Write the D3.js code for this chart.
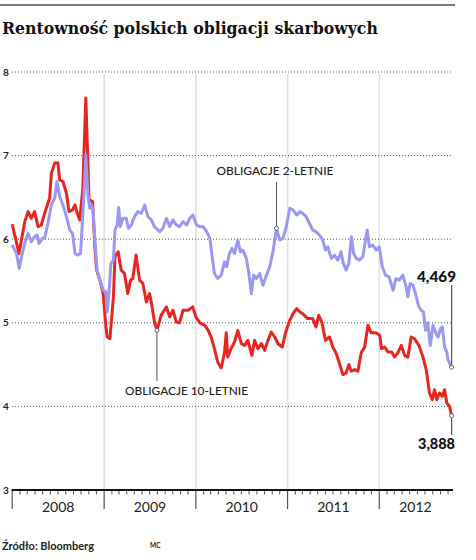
<!DOCTYPE html>
<html>
<head>
<meta charset="utf-8">
<script src="https://cdn.jsdelivr.net/npm/d3@7"></script>
<style>
  html, body { margin: 0; padding: 0; background: #fff; }
  svg { display: block; }
</style>
</head>
<body>
<svg id="chart" width="476" height="560"></svg>
<script>
// ---------- DATA ----------
const title = "Rentowność polskich obligacji skarbowych";
const source = "Źródło: Bloomberg";
const author = "MC";
const yTicks = [3, 4, 5, 6, 7, 8];
const yearLabels = ["2008", "2009", "2010", "2011", "2012"];

const dates10 = ["2008-01-01","2008-01-28","2008-02-20","2008-03-04","2008-03-17","2008-03-30","2008-04-13","2008-04-26","2008-05-09","2008-05-29",
"2008-06-05","2008-06-18","2008-07-01","2008-07-08","2008-07-21","2008-08-04","2008-08-14","2008-08-28","2008-09-07","2008-09-16",
"2008-09-26","2008-10-08","2008-10-20","2008-11-02","2008-11-16","2008-11-25","2008-12-02","2008-12-15","2008-12-28","2009-01-08",
"2009-01-13","2009-01-24","2009-02-07","2009-02-13","2009-02-26","2009-03-03","2009-03-10","2009-03-23","2009-04-05","2009-04-16",
"2009-04-25","2009-05-08","2009-05-22","2009-06-04","2009-06-18","2009-07-01","2009-07-11","2009-07-20","2009-07-30","2009-08-16",
"2009-09-06","2009-09-19","2009-10-02","2009-10-15","2009-10-28","2009-11-11","2009-12-01","2009-12-20","2010-01-01","2010-01-17",
"2010-02-06","2010-02-19","2010-03-03","2010-03-16","2010-03-29","2010-04-12","2010-04-25","2010-05-02","2010-05-08","2010-05-21",
"2010-06-04","2010-06-17","2010-07-01","2010-07-14","2010-07-27","2010-08-12","2010-08-23","2010-09-05","2010-09-19","2010-10-02",
"2010-10-15","2010-10-28","2010-11-11","2010-11-24","2010-12-11","2010-12-24","2011-01-07","2011-01-23","2011-02-06","2011-02-19",
"2011-03-02","2011-03-22","2011-04-11","2011-04-24","2011-05-05","2011-05-18","2011-06-01","2011-06-17","2011-06-30","2011-07-13",
"2011-07-26","2011-08-09","2011-08-22","2011-09-02","2011-09-12","2011-09-25","2011-10-08","2011-10-21","2011-11-04","2011-11-17",
"2011-11-30","2011-12-20","2012-01-03","2012-01-10","2012-01-23","2012-02-05","2012-02-19","2012-03-02","2012-03-15","2012-03-29",
"2012-04-11","2012-04-24","2012-05-07","2012-05-20","2012-06-07","2012-06-23","2012-07-06","2012-07-19","2012-07-30","2012-08-08",
"2012-08-17","2012-08-28","2012-09-08","2012-09-17","2012-09-26","2012-10-07","2012-10-15"];
const yield10 = [6.18,5.83,6.21,6.33,6.25,6.33,6.15,6.17,6.31,6.49,
6.79,6.91,6.91,6.71,6.69,6.55,6.33,6.35,6.41,6.31,
6.23,6.60,7.69,6.47,6.45,5.91,5.63,5.51,5.35,4.95,
4.83,4.81,5.31,5.79,5.85,5.75,5.63,5.59,5.35,5.51,
5.53,5.81,5.51,5.47,5.25,5.35,5.19,5.01,4.91,5.09,
5.19,5.07,5.15,5.01,5.00,5.15,5.15,5.19,5.07,5.00,
4.97,4.91,4.83,4.69,4.53,4.46,4.64,4.88,4.59,4.69,
4.77,4.91,4.75,4.73,4.79,4.61,4.79,4.69,4.75,4.67,
4.79,4.89,4.83,4.75,4.71,4.88,5.01,5.11,5.17,5.13,
5.11,5.05,5.05,4.95,5.09,5.00,4.79,4.83,4.71,4.64,
4.52,4.38,4.40,4.50,4.42,4.44,4.42,4.64,4.71,4.97,
4.88,4.88,4.85,4.69,4.71,4.65,4.65,4.59,4.64,4.73,
4.61,4.59,4.83,4.81,4.73,4.59,4.44,4.16,4.08,4.20,
4.08,4.16,4.12,4.20,4.04,4.00,3.888];

const dates2 = ["2008-01-01","2008-01-18","2008-01-29","2008-02-07","2008-02-20","2008-03-04","2008-03-17","2008-03-30","2008-04-09","2008-04-17",
"2008-04-30","2008-05-09","2008-05-22","2008-06-05","2008-06-18","2008-06-27","2008-07-08","2008-07-21","2008-08-04","2008-08-17",
"2008-08-28","2008-09-07","2008-09-16","2008-09-29","2008-10-07","2008-10-16","2008-10-20","2008-10-29","2008-11-05","2008-11-12",
"2008-11-18","2008-11-25","2008-12-04","2008-12-15","2008-12-28","2009-01-08","2009-01-13","2009-01-21","2009-01-28","2009-02-07",
"2009-02-13","2009-02-22","2009-02-28","2009-03-06","2009-03-16","2009-03-30","2009-04-08","2009-04-19","2009-05-02","2009-05-15",
"2009-05-29","2009-06-11","2009-06-24","2009-07-08","2009-07-20","2009-08-10","2009-08-23","2009-09-06","2009-09-19","2009-10-02",
"2009-10-15","2009-10-28","2009-11-11","2009-11-25","2009-12-08","2009-12-20","2010-01-04","2010-01-17","2010-01-30","2010-02-13",
"2010-02-26","2010-03-07","2010-03-16","2010-03-29","2010-04-12","2010-04-25","2010-05-04","2010-05-15","2010-05-25","2010-06-04",
"2010-06-17","2010-06-27","2010-07-07","2010-07-21","2010-07-31","2010-08-10","2010-08-19","2010-08-30","2010-09-12","2010-09-25",
"2010-10-09","2010-10-22","2010-11-04","2010-11-18","2010-12-01","2010-12-14","2010-12-27","2011-01-10","2011-01-23","2011-02-06",
"2011-02-19","2011-03-02","2011-03-16","2011-03-29","2011-04-11","2011-04-24","2011-05-08","2011-05-21","2011-06-01","2011-06-10",
"2011-06-24","2011-07-07","2011-07-20","2011-08-02","2011-08-11","2011-08-22","2011-09-02","2011-09-12","2011-09-21","2011-10-01",
"2011-10-14","2011-10-28","2011-11-06","2011-11-14","2011-11-23","2011-12-06","2011-12-20","2012-01-01","2012-01-13","2012-01-26",
"2012-02-09","2012-02-25","2012-03-08","2012-03-21","2012-04-04","2012-04-17","2012-04-24","2012-05-03","2012-05-14","2012-05-24",
"2012-06-07","2012-06-16","2012-06-25","2012-07-03","2012-07-12","2012-07-22","2012-08-02","2012-08-13","2012-08-22","2012-09-01",
"2012-09-08","2012-09-17","2012-09-26","2012-09-30","2012-10-15"];
const yield2 = [5.93,5.83,5.65,5.79,5.95,6.07,5.97,6.03,6.05,5.95,
6.01,6.01,6.19,6.41,6.49,6.69,6.51,6.41,6.27,6.11,
6.07,5.83,5.81,5.83,6.23,6.71,7.01,6.51,6.37,6.41,
6.35,5.99,5.63,5.51,5.39,5.37,5.13,5.39,5.71,5.75,
6.11,6.17,6.38,6.15,6.25,6.25,6.13,6.17,6.27,6.33,
6.31,6.41,6.27,6.23,6.15,6.09,6.13,6.25,6.15,6.23,
6.17,6.15,6.21,6.17,6.25,6.29,6.17,6.15,6.15,6.09,
6.01,5.79,5.59,5.53,5.57,5.73,5.67,5.83,5.89,5.83,
5.99,5.85,5.87,5.77,5.59,5.35,5.57,5.53,5.59,5.45,
5.57,5.67,5.85,6.13,5.99,6.01,6.15,6.37,6.35,6.29,
6.33,6.31,6.27,6.19,6.11,6.09,6.05,5.99,5.87,5.91,
5.77,5.81,5.75,5.85,5.71,5.63,5.71,6.03,5.83,5.77,
5.75,5.79,5.97,6.11,5.91,5.93,5.87,5.91,5.67,5.57,
5.55,5.39,5.53,5.51,5.57,5.43,5.31,5.47,5.45,5.35,
5.19,5.15,5.13,4.91,5.00,4.73,4.97,4.88,4.83,4.93,
4.95,4.71,4.65,4.56,4.469];

const label2 = "OBLIGACJE 2-LETNIE";
const label10 = "OBLIGACJE 10-LETNIE";
const label2Date = "2010-11-18";
const label10Date = "2009-07-30";
const endLabel2 = "4,469";
const endLabel10 = "3,888";

// ---------- SETUP ----------
const parse = d3.timeParse("%Y-%m-%d");
const svg = d3.select("#chart");
const fontSans = "Lato, 'Open Sans', sans-serif";
const red = "#e8251f", blue = "#9b97f3";

const x = d3.scaleTime()
  .domain([new Date(2008, 0, 1), new Date(2013, 0, 1)])
  .range([12.2, 471.2]);
const y = d3.scaleLinear().domain([3, 8]).range([490, 72]);
const axisEnd = 453;

function fit(sel, w) {
  const n = sel.node();
  const cur = parseFloat(sel.attr("font-size"));
  const len = n.getComputedTextLength();
  if (len > 0) sel.attr("font-size", (cur * w / len).toFixed(2));
  return sel;
}

// top rule
svg.append("line").attr("x1", 0).attr("x2", 455).attr("y1", 5).attr("y2", 5)
  .attr("stroke", "#7a7a7a").attr("stroke-width", 2);

// title
fit(svg.append("text").attr("x", 2).attr("y", 34)
  .attr("font-family", "'DejaVu Serif', serif").attr("font-weight", "bold")
  .attr("font-size", 17).attr("fill", "#111").text(title), 376);

// vertical year gridlines
const yearStarts = yearLabels.map(s => new Date(+s, 0, 1));
svg.append("g").selectAll("line").data(yearStarts.slice(1)).join("line")
  .attr("x1", d => x(d)).attr("x2", d => x(d))
  .attr("y1", y(8) + 2).attr("y2", y(3))
  .attr("stroke", "#e2e2e2").attr("stroke-width", 1.6);

// horizontal dotted grid
svg.append("g").selectAll("line").data(yTicks.filter(v => v > 3)).join("line")
  .attr("x1", 12).attr("x2", axisEnd)
  .attr("y1", d => y(d)).attr("y2", d => y(d))
  .attr("stroke", "#555").attr("stroke-width", 1).attr("stroke-dasharray", "1,2");

// y labels
svg.append("g").selectAll("text").data(yTicks).join("text")
  .attr("x", 3).attr("y", d => y(d)).attr("dy", "0.35em")
  .attr("font-family", fontSans).attr("font-weight", "bold").attr("font-size", 10)
  .attr("fill", "#222").text(d => d);

// lines
const line = d3.line().x(d => x(d[0])).y(d => y(d[1]));
const s10 = dates10.map((d, i) => [parse(d), yield10[i]]);
const s2 = dates2.map((d, i) => [parse(d), yield2[i]]);

svg.append("path").datum(s10).attr("d", line).attr("fill", "none")
  .attr("stroke", red).attr("stroke-width", 3).attr("stroke-linejoin", "round");
svg.append("path").datum(s2).attr("d", line).attr("fill", "none")
  .attr("stroke", blue).attr("stroke-width", 3).attr("stroke-linejoin", "round");

// x axis
const months = d3.timeMonth.range(new Date(2008, 0, 1), new Date(2012, 10, 1));
svg.append("g").selectAll("line").data(months.filter(d => d.getMonth() !== 0)).join("line")
  .attr("x1", d => x(d)).attr("x2", d => x(d))
  .attr("y1", y(3)).attr("y2", y(3) + 4.5)
  .attr("stroke", "#555").attr("stroke-width", 1);
svg.append("g").selectAll("line").data(yearStarts).join("line")
  .attr("x1", d => x(d)).attr("x2", d => x(d))
  .attr("y1", y(3)).attr("y2", y(3) + 19)
  .attr("stroke", "#555").attr("stroke-width", 1.2);
svg.append("line").attr("x1", x(yearStarts[0]) - 0.5).attr("x2", axisEnd)
  .attr("y1", y(3)).attr("y2", y(3)).attr("stroke", "#111").attr("stroke-width", 2);

svg.append("g").selectAll("text").data(yearLabels).join("text")
  .attr("x", (d, i) => {
    const a = x(yearStarts[i]);
    const b = i < 4 ? x(yearStarts[i + 1]) : x(new Date(2013, 0, 1));
    return i < 4 ? (a + b) / 2 : 415.5;
  })
  .attr("y", 507).attr("dy", "0.35em").attr("text-anchor", "middle")
  .attr("font-family", fontSans).attr("font-size", 14).attr("fill", "#222")
  .text(d => d);

// annotations
function marker(px, py) {
  svg.append("circle").attr("cx", px).attr("cy", py).attr("r", 2)
    .attr("fill", "#fff").attr("stroke", "#666").attr("stroke-width", 1);
}
// 2-year label
const a2x = x(parse(label2Date)), a2y = y(yield2[dates2.indexOf(label2Date)]);
svg.append("line").attr("x1", a2x).attr("x2", a2x).attr("y1", 182).attr("y2", a2y - 2)
  .attr("stroke", "#555").attr("stroke-width", 1);
marker(a2x, a2y);
fit(svg.append("text").attr("x", 216.5).attr("y", 171).attr("dy", "0.35em")
  .attr("font-family", fontSans).attr("font-weight", 500).attr("font-size", 11.5)
  .attr("fill", "#222").text(label2), 117);

// 10-year label
const a10x = x(parse(label10Date)), a10y = y(yield10[dates10.indexOf(label10Date)]);
svg.append("line").attr("x1", a10x).attr("x2", a10x).attr("y1", a10y + 2).attr("y2", 381)
  .attr("stroke", "#555").attr("stroke-width", 1);
marker(a10x, a10y);
fit(svg.append("text").attr("x", 125).attr("y", 391).attr("dy", "0.35em")
  .attr("font-family", fontSans).attr("font-weight", 500).attr("font-size", 11.5)
  .attr("fill", "#222").text(label10), 123);

// end values
const e2 = s2[s2.length - 1], e10 = s10[s10.length - 1];
svg.append("line").attr("x1", x(e2[0])).attr("x2", x(e2[0])).attr("y1", 285).attr("y2", y(e2[1]) - 2)
  .attr("stroke", "#555").attr("stroke-width", 1.2);
marker(x(e2[0]), y(e2[1]));
fit(svg.append("text").attr("x", 456).attr("y", 277).attr("dy", "0.35em").attr("text-anchor", "end")
  .attr("font-family", fontSans).attr("font-weight", 900).attr("font-size", 14)
  .attr("fill", "#111").text(endLabel2), 39);

svg.append("line").attr("x1", x(e10[0])).attr("x2", x(e10[0])).attr("y1", y(e10[1]) + 2).attr("y2", 435)
  .attr("stroke", "#555").attr("stroke-width", 1.2);
marker(x(e10[0]), y(e10[1]));
fit(svg.append("text").attr("x", 455).attr("y", 443.5).attr("dy", "0.35em").attr("text-anchor", "end")
  .attr("font-family", fontSans).attr("font-weight", 900).attr("font-size", 14)
  .attr("fill", "#111").text(endLabel10), 37);

// footer
fit(svg.append("text").attr("x", 2).attr("y", 546).attr("dy", "0.35em")
  .attr("font-family", fontSans).attr("font-weight", "bold").attr("font-size", 10.5)
  .attr("fill", "#222").text(source), 92);
svg.append("text").attr("x", 150).attr("y", 546).attr("dy", "0.35em")
  .attr("font-family", fontSans).attr("font-weight", "bold").attr("font-size", 6.5)
  .attr("fill", "#222").text(author);
</script>
</body>
</html>
